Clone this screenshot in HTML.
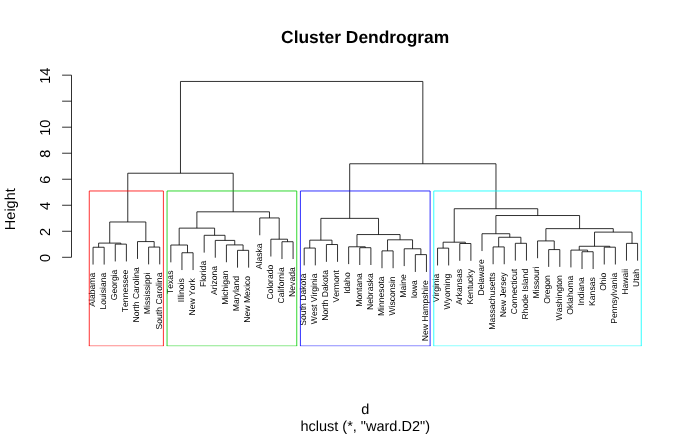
<!DOCTYPE html><html><head><meta charset="utf-8"><style>html,body{margin:0;padding:0;background:#fff}svg{display:block;will-change:transform}text{font-family:"Liberation Sans",sans-serif;fill:#000;font-kerning:none;text-rendering:geometricPrecision}</style></head><body>
<svg width="696" height="435" viewBox="0 0 696 435">
<rect width="696" height="435" fill="#fff"/>
<text x="365.2" y="42.7" font-size="17.4" font-weight="bold" text-anchor="middle">Cluster Dendrogram</text>
<text x="365.2" y="413.7" font-size="14.5" text-anchor="middle">d</text>
<text x="365.2" y="430.8" font-size="14.5" text-anchor="middle">hclust (*, &quot;ward.D2&quot;)</text>
<text transform="translate(14.9,209.2) rotate(-90)" font-size="14.5" text-anchor="middle">Height</text>
<path d="M71.5,257.30V75.16M71.5,257.30h-9.4M71.5,231.28h-9.4M71.5,205.26h-9.4M71.5,179.24h-9.4M71.5,153.22h-9.4M71.5,127.20h-9.4M71.5,101.18h-9.4M71.5,75.16h-9.4" fill="none" stroke="rgba(0,0,0,0.9)" stroke-width="0.9"/>
<text transform="translate(50.4,257.90) rotate(-90)" font-size="14.5" text-anchor="middle">0</text>
<text transform="translate(50.4,231.88) rotate(-90)" font-size="14.5" text-anchor="middle">2</text>
<text transform="translate(50.4,205.86) rotate(-90)" font-size="14.5" text-anchor="middle">4</text>
<text transform="translate(50.4,179.84) rotate(-90)" font-size="14.5" text-anchor="middle">6</text>
<text transform="translate(50.4,153.82) rotate(-90)" font-size="14.5" text-anchor="middle">8</text>
<text transform="translate(50.4,127.80) rotate(-90)" font-size="14.5" text-anchor="middle">10</text>
<text transform="translate(50.4,75.76) rotate(-90)" font-size="14.5" text-anchor="middle">14</text>
<path d="M415.33,271.94V254.62H426.44V271.94M181.95,270.06V252.74H193.07V270.06M582.02,269.04V251.72H593.13V269.04M381.99,268.19V250.87H393.10V268.19M237.52,267.65V250.33H248.63V267.65M570.91,267.42V250.10H587.58V251.72M548.68,266.89V249.58H559.80V266.89M404.21,266.08V248.77H420.88V254.62M437.55,265.46V248.14H448.67V265.46M304.20,265.37V248.05H315.31V265.37M359.76,265.00V247.69H370.88V265.00M93.05,264.57V247.25H104.16V264.57M604.25,264.49V247.18H615.36V264.49M148.62,264.38V247.07H159.73V264.38M493.12,264.24V246.92H504.23V264.24M348.65,264.11V246.79H365.32V247.69M579.24,250.10V246.28H609.80V247.18M170.84,262.35V245.03H187.51V252.74M226.41,262.24V244.92H243.08V250.33M326.42,261.83V244.52H337.54V261.83M115.28,261.45V244.13H126.39V261.45M459.78,260.83V243.51H470.89V260.83M626.47,260.68V243.37H637.59V260.68M515.34,260.62V243.31H526.46V260.62M98.61,247.25V243.10H120.83V244.13M443.11,248.14V242.20H465.34V243.51M281.97,259.05V241.73H293.08V259.05M137.50,258.91V241.59H154.17V247.07M537.57,258.22V240.91H554.24V249.58M215.29,257.72V240.40H234.74V244.92M309.75,248.05V240.17H331.98V244.52M387.54,250.87V239.80H412.55V248.77M270.86,256.53V239.21H287.53V241.73M498.67,246.92V237.27H520.90V243.31M204.18,252.62V235.30H225.02V240.40M356.98,246.79V234.55H400.05V239.80M482.00,251.05V233.73H509.79V237.27M594.52,246.28V232.11H632.03V243.37M545.90,240.91V228.63H613.28V232.11M179.18,245.03V228.13H214.60V235.30M109.72,243.10V221.98H145.84V241.59M320.87,240.17V218.36H378.52V234.55M259.75,235.26V217.94H279.19V239.21M495.90,233.73V215.53H579.59V228.63M196.89,228.13V211.82H269.47V217.94M454.22,242.20V208.72H537.74V215.53M127.78,221.98V173.23H233.18V211.82M349.69,218.36V163.78H495.98V208.72M180.48,173.23V81.45H422.84V163.78" fill="none" stroke="rgba(0,0,0,0.9)" stroke-width="0.9" stroke-linejoin="miter"/>
<g font-size="8.6" text-anchor="end">
<text transform="translate(94.85,272.77) rotate(-90)">Alabama</text>
<text transform="translate(105.96,272.77) rotate(-90)">Louisiana</text>
<text transform="translate(117.08,269.65) rotate(-90)">Georgia</text>
<text transform="translate(128.19,269.65) rotate(-90)">Tennessee</text>
<text transform="translate(139.30,267.11) rotate(-90)">North Carolina</text>
<text transform="translate(150.42,272.58) rotate(-90)">Mississippi</text>
<text transform="translate(161.53,272.58) rotate(-90)">South Carolina</text>
<text transform="translate(172.64,270.55) rotate(-90)">Texas</text>
<text transform="translate(183.75,278.26) rotate(-90)">Illinois</text>
<text transform="translate(194.87,278.26) rotate(-90)">New York</text>
<text transform="translate(205.98,260.82) rotate(-90)">Florida</text>
<text transform="translate(217.09,265.92) rotate(-90)">Arizona</text>
<text transform="translate(228.21,270.44) rotate(-90)">Michigan</text>
<text transform="translate(239.32,275.85) rotate(-90)">Maryland</text>
<text transform="translate(250.43,275.85) rotate(-90)">New Mexico</text>
<text transform="translate(261.55,243.46) rotate(-90)">Alaska</text>
<text transform="translate(272.66,264.73) rotate(-90)">Colorado</text>
<text transform="translate(283.77,267.25) rotate(-90)">California</text>
<text transform="translate(294.88,267.25) rotate(-90)">Nevada</text>
<text transform="translate(306.00,273.57) rotate(-90)">South Dakota</text>
<text transform="translate(317.11,273.57) rotate(-90)">West Virginia</text>
<text transform="translate(328.22,270.03) rotate(-90)">North Dakota</text>
<text transform="translate(339.34,270.03) rotate(-90)">Vermont</text>
<text transform="translate(350.45,272.31) rotate(-90)">Idaho</text>
<text transform="translate(361.56,273.20) rotate(-90)">Montana</text>
<text transform="translate(372.68,273.20) rotate(-90)">Nebraska</text>
<text transform="translate(383.79,276.39) rotate(-90)">Minnesota</text>
<text transform="translate(394.90,276.39) rotate(-90)">Wisconsin</text>
<text transform="translate(406.01,274.28) rotate(-90)">Maine</text>
<text transform="translate(417.13,280.14) rotate(-90)">Iowa</text>
<text transform="translate(428.24,280.14) rotate(-90)">New Hampshire</text>
<text transform="translate(439.35,273.66) rotate(-90)">Virginia</text>
<text transform="translate(450.47,273.66) rotate(-90)">Wyoming</text>
<text transform="translate(461.58,269.03) rotate(-90)">Arkansas</text>
<text transform="translate(472.69,269.03) rotate(-90)">Kentucky</text>
<text transform="translate(483.81,259.25) rotate(-90)">Delaware</text>
<text transform="translate(494.92,272.44) rotate(-90)">Massachusetts</text>
<text transform="translate(506.03,272.44) rotate(-90)">New Jersey</text>
<text transform="translate(517.14,268.82) rotate(-90)">Connecticut</text>
<text transform="translate(528.26,268.82) rotate(-90)">Rhode Island</text>
<text transform="translate(539.37,266.42) rotate(-90)">Missouri</text>
<text transform="translate(550.48,275.09) rotate(-90)">Oregon</text>
<text transform="translate(561.60,275.09) rotate(-90)">Washington</text>
<text transform="translate(572.71,275.62) rotate(-90)">Oklahoma</text>
<text transform="translate(583.82,277.24) rotate(-90)">Indiana</text>
<text transform="translate(594.93,277.24) rotate(-90)">Kansas</text>
<text transform="translate(606.05,272.69) rotate(-90)">Ohio</text>
<text transform="translate(617.16,272.69) rotate(-90)">Pennsylvania</text>
<text transform="translate(628.27,268.88) rotate(-90)">Hawaii</text>
<text transform="translate(639.39,268.88) rotate(-90)">Utah</text>
</g>
<path d="M89.27,346.00V190.98H163.40V346.00" fill="none" stroke="#ff0000" stroke-opacity="0.9" stroke-width="0.9"/>
<path d="M88.82,345.75H163.85" fill="none" stroke="#ff0000" stroke-opacity="0.9" stroke-width="0.5"/>
<path d="M167.06,346.00V190.98H296.75V346.00" fill="none" stroke="#00cd00" stroke-opacity="0.9" stroke-width="0.9"/>
<path d="M166.61,345.75H297.20" fill="none" stroke="#00cd00" stroke-opacity="0.9" stroke-width="0.5"/>
<path d="M300.42,346.00V190.98H430.11V346.00" fill="none" stroke="#0000ff" stroke-opacity="0.9" stroke-width="0.9"/>
<path d="M299.97,345.75H430.56" fill="none" stroke="#0000ff" stroke-opacity="0.9" stroke-width="0.5"/>
<path d="M433.77,346.00V190.98H641.25V346.00" fill="none" stroke="#00ffff" stroke-opacity="0.9" stroke-width="0.9"/>
<path d="M433.32,345.75H641.70" fill="none" stroke="#00ffff" stroke-opacity="0.9" stroke-width="0.5"/>
</svg></body></html>
